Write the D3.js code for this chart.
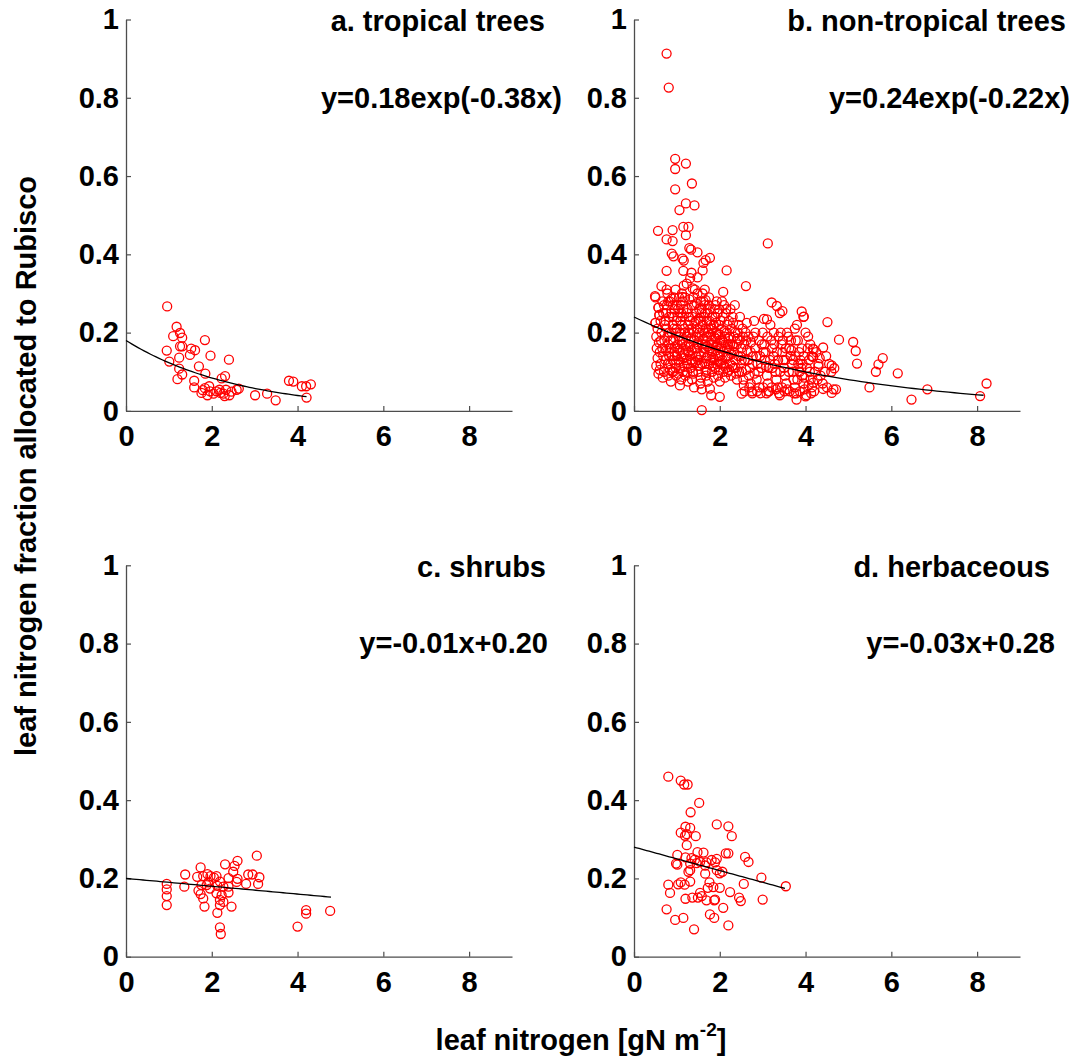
<!DOCTYPE html>
<html>
<head>
<meta charset="utf-8">
<script src="https://cdn.jsdelivr.net/npm/d3@7"></script>
<style>
  html, body { margin: 0; padding: 0; background: #fff; }
  svg text { font-family: "Liberation Sans", Arial, Helvetica, sans-serif; font-weight: bold; fill: #000; }
</style>
</head>
<body>
<svg id="chart" width="1075" height="1060"></svg>
<script>
// ---- data: leaf N [gN m-2] vs fraction of leaf N in Rubisco ----
const xTicks = [0, 2, 4, 6, 8];
const yTicks = [0, 0.2, 0.4, 0.6, 0.8, 1];

const panelTitles = ["a. tropical trees", "b. non-tropical trees", "c. shrubs", "d. herbaceous"];
const fitLabels = ["y=0.18exp(-0.38x)", "y=0.24exp(-0.22x)", "y=-0.01x+0.20", "y=-0.03x+0.28"];
// fitted curves: [kind, a, b, x start, x end]
const fitParams = [
  ["exp", 0.18, -0.38, 0, 4.21],
  ["exp", 0.24, -0.22, 0, 8.15],
  ["lin", -0.01, 0.20, 0, 4.78],
  ["lin", -0.03, 0.28, 0, 3.52]
];

const tropicalTrees = [
  [0.96,0.267],[1.18,0.215],[1.26,0.199],[1.10,0.191],[1.31,0.187],[1.84,0.181],[1.26,0.165],[1.31,0.165],
  [1.52,0.159],[1.61,0.155],[0.95,0.154],[1.49,0.143],[1.24,0.136],[1.97,0.141],[2.40,0.131],[1.01,0.126],
  [1.70,0.114],[1.24,0.108],[1.31,0.093],[1.85,0.095],[1.20,0.081],[1.59,0.077],[2.23,0.083],[2.31,0.089],
  [1.59,0.060],[1.79,0.053],[1.94,0.063],[1.90,0.040],[2.04,0.044],[2.18,0.054],[2.27,0.044],[2.33,0.054],
  [2.41,0.040],[2.46,0.049],[2.58,0.054],[2.63,0.057],[3.01,0.040],[3.29,0.044],[3.49,0.027],[3.80,0.077],
  [3.90,0.075],[4.10,0.063],[4.20,0.063],[4.31,0.068],[4.21,0.034],[1.96,0.050],[2.11,0.050],[1.76,0.046],
  [2.20,0.046],[2.30,0.038],[1.84,0.058]
];

const nonTropicalTrees = [
  // upper outliers
  [0.76,0.913],[0.81,0.826],[0.96,0.644],[0.96,0.618],[1.21,0.632],[1.35,0.581],[0.96,0.566],[1.21,0.530],
  [1.41,0.525],[1.06,0.513],[1.15,0.470],[1.27,0.470],[0.56,0.460],[0.90,0.462],[0.76,0.438],[0.90,0.434],
  [1.21,0.449],[1.29,0.416],[1.33,0.412],[1.48,0.405],[3.12,0.428],[0.88,0.402],[0.92,0.395],[1.13,0.389],
  [1.16,0.384],[1.67,0.385],[1.77,0.391],[1.62,0.378],[0.76,0.358],[1.15,0.358],[2.16,0.359],[1.34,0.353],
  [1.60,0.359],[1.48,0.341],[1.31,0.339],[1.23,0.325],[0.64,0.319],[0.76,0.310],[2.61,0.319],[1.37,0.313],
  [1.65,0.310],[2.08,0.304],[0.49,0.293],[0.88,0.287],[1.13,0.291],[1.67,0.283],[1.93,0.280],[0.57,0.264],
  [3.21,0.277],[3.33,0.268],[3.46,0.255],[3.91,0.254],[3.95,0.240],[0.59,0.245],[3.10,0.234],[3.75,0.210],
  [0.50,0.225],[4.17,0.159],[4.17,0.138],
  // lower edge
  [1.58,0.002],[2.00,0.036],[1.77,0.057],[1.80,0.040],[2.51,0.044],[2.76,0.045],[3.09,0.045],[3.40,0.040],
  [3.79,0.029],[4.02,0.040],
  // right tail
  [3.96,0.241],[4.51,0.227],[4.78,0.182],[5.11,0.176],[5.17,0.153],[5.20,0.121],[4.41,0.162],[4.19,0.157],
  [4.18,0.138],[4.30,0.114],[4.61,0.116],[4.67,0.109],[5.80,0.135],[5.70,0.119],[5.64,0.100],[6.15,0.096],
  [5.49,0.060],[6.47,0.029],[6.84,0.055],[8.07,0.038],[8.22,0.070],[4.41,0.056],[4.65,0.055],[4.71,0.055],
  [4.18,0.072],[4.00,0.037],[4.61,0.046],
  // main cloud
  [0.50,0.290],[0.57,0.264],[0.59,0.245],[0.50,0.225],[0.55,0.210],[0.52,0.190],[0.58,0.175],[0.53,0.160],
  [0.60,0.150],[0.55,0.135],[0.52,0.115],[0.60,0.105],[0.57,0.095],[0.62,0.120],[0.64,0.200],[0.63,0.180],
  [0.66,0.160],[0.68,0.140],[0.70,0.100],[0.67,0.085],[0.72,0.220],[0.75,0.250],[0.70,0.270],[0.78,0.300],
  [0.80,0.280],[0.82,0.240],[0.76,0.210],[0.78,0.190],[0.80,0.170],[0.75,0.155],[0.82,0.140],[0.79,0.120],
  [0.84,0.105],[0.80,0.090],[0.86,0.075],[0.88,0.200],[0.90,0.220],[0.92,0.180],[0.88,0.160],[0.94,0.150],
  [0.90,0.130],[0.96,0.120],[0.92,0.100],[0.98,0.090],[0.95,0.260],[0.93,0.290],[0.97,0.310],[1.00,0.270],
  [1.02,0.240],[1.00,0.210],[1.04,0.190],[1.02,0.170],[1.06,0.155],[1.00,0.140],[1.05,0.125],[1.08,0.110],
  [1.03,0.095],[1.10,0.080],[1.07,0.065],[1.12,0.220],[1.10,0.250],[1.14,0.280],[1.12,0.300],[1.16,0.320],
  [1.18,0.200],[1.15,0.180],[1.20,0.165],[1.17,0.145],[1.22,0.130],[1.18,0.115],[1.24,0.100],[1.20,0.090],
  [1.26,0.075],[1.25,0.260],[1.28,0.240],[1.26,0.220],[1.30,0.200],[1.32,0.185],[1.28,0.170],[1.34,0.155],
  [1.30,0.140],[1.36,0.125],[1.32,0.110],[1.38,0.095],[1.35,0.080],[1.40,0.060],[1.38,0.290],[1.40,0.270],
  [1.42,0.310],[1.45,0.250],[1.44,0.230],[1.48,0.210],[1.46,0.190],[1.50,0.175],[1.47,0.160],[1.52,0.145],
  [1.50,0.130],[1.54,0.115],[1.50,0.100],[1.56,0.085],[1.55,0.070],[1.58,0.055],[1.56,0.280],[1.60,0.300],
  [1.58,0.260],[1.62,0.240],[1.60,0.220],[1.64,0.200],[1.62,0.185],[1.66,0.170],[1.64,0.150],[1.68,0.135],
  [1.66,0.120],[1.70,0.105],[1.68,0.090],[1.72,0.075],[1.74,0.270],[1.72,0.250],[1.76,0.230],[1.74,0.210],
  [1.78,0.195],[1.80,0.180],[1.78,0.160],[1.82,0.145],[1.80,0.130],[1.84,0.115],[1.82,0.100],[1.86,0.085],
  [1.88,0.260],[1.90,0.240],[1.86,0.220],[1.92,0.200],[1.90,0.185],[1.94,0.170],[1.92,0.155],[1.96,0.140],
  [1.94,0.120],[1.98,0.105],[1.96,0.090],[2.00,0.075],[2.02,0.230],[2.04,0.210],[2.00,0.195],[2.06,0.180],
  [2.04,0.165],[2.08,0.150],[2.06,0.130],[2.10,0.115],[2.08,0.100],[2.12,0.085],[2.10,0.270],[2.14,0.250],
  [2.18,0.220],[2.16,0.200],[2.20,0.185],[2.18,0.170],[2.22,0.155],[2.20,0.140],[2.24,0.120],[2.22,0.105],
  [2.26,0.090],[2.28,0.210],[2.30,0.240],[2.32,0.190],[2.30,0.170],[2.34,0.150],[2.36,0.130],[2.32,0.110],
  [2.38,0.095],[2.40,0.080],[2.42,0.200],[2.44,0.220],[2.46,0.180],[2.50,0.160],[2.48,0.140],[2.52,0.100],
  [2.55,0.080],[2.56,0.065],[2.58,0.050],[2.60,0.200],[2.62,0.180],[2.64,0.155],[2.66,0.130],[2.70,0.110],
  [2.68,0.090],[2.72,0.070],[2.75,0.050],[2.78,0.190],[2.80,0.230],[2.82,0.160],[2.85,0.140],[2.88,0.120],
  [2.90,0.100],[2.86,0.080],[2.92,0.060],[2.95,0.045],[2.98,0.170],[3.00,0.200],[3.02,0.150],[3.05,0.130],
  [3.08,0.115],[3.10,0.090],[3.12,0.070],[3.15,0.050],[3.18,0.220],[3.20,0.180],[3.22,0.160],[3.25,0.140],
  [3.28,0.120],[3.30,0.100],[3.32,0.080],[3.35,0.060],[3.38,0.045],[3.40,0.250],[3.42,0.200],[3.44,0.170],
  [3.46,0.150],[3.48,0.130],[3.50,0.110],[3.52,0.090],[3.55,0.070],[3.58,0.055],[3.60,0.190],[3.62,0.160],
  [3.65,0.140],[3.68,0.120],[3.70,0.100],[3.72,0.080],[3.75,0.060],[3.78,0.045],[3.80,0.220],[3.82,0.180],
  [3.85,0.150],[3.88,0.130],[3.90,0.110],[3.92,0.090],[3.95,0.070],[3.98,0.055],[4.00,0.200],[4.05,0.160],
  [4.08,0.130],[4.10,0.100],[4.12,0.080],[4.15,0.060],[4.20,0.050],[4.25,0.150],[4.30,0.120],[4.35,0.090],
  [4.40,0.070],[4.50,0.060],[4.55,0.120],[4.60,0.100],
  [0.74,0.230],[0.86,0.180],[0.98,0.200],[1.08,0.230],[1.12,0.170],[1.22,0.190],[1.27,0.150],[1.34,0.210],
  [1.40,0.180],[1.44,0.140],[1.52,0.200],[1.55,0.230],[1.58,0.170],[1.66,0.250],[1.70,0.190],[1.72,0.140],
  [1.82,0.210],[1.85,0.170],[1.90,0.270],[1.98,0.220],[2.02,0.160],[2.12,0.190],[2.16,0.140],[0.90,0.240],
  [1.05,0.290],[1.15,0.260],[1.35,0.270],[1.48,0.300],[1.52,0.260],[1.62,0.280],[1.75,0.290],[1.95,0.250],
  [2.05,0.280],[2.25,0.260],[0.68,0.250],[0.84,0.280],[0.96,0.165],[1.06,0.200],[1.16,0.135],[1.30,0.230],
  [1.42,0.160],[1.56,0.140],[1.68,0.210],[1.76,0.155],[1.88,0.130],[2.00,0.140],[2.14,0.110],[2.24,0.170],
  [2.36,0.200],[2.40,0.170],[2.54,0.190],[2.58,0.130],[2.72,0.150],[2.76,0.120],[2.94,0.140],[3.04,0.170],
  [3.14,0.110],[3.26,0.200],[3.36,0.130],[3.54,0.160],[3.66,0.180],[3.76,0.140],[3.86,0.100],[3.96,0.140],
  [4.06,0.190],[4.14,0.140],
  [0.62,0.230],[0.66,0.280],[0.71,0.180],[0.73,0.130],[0.77,0.270],[0.81,0.200],[0.83,0.160],[0.85,0.120],
  [0.87,0.250],[0.89,0.100],[0.91,0.270],[0.93,0.210],[0.95,0.140],[0.97,0.110],[0.99,0.230],[1.01,0.160],
  [1.03,0.260],[1.04,0.130],[1.07,0.180],[1.09,0.270],[1.11,0.140],[1.13,0.240],[1.14,0.100],[1.17,0.210],
  [1.19,0.290],[1.21,0.155],[1.23,0.250],[1.24,0.120],[1.27,0.200],[1.29,0.285],[1.31,0.165],[1.33,0.130],
  [1.36,0.240],[1.37,0.100],[1.39,0.200],[1.41,0.225],[1.43,0.125],[1.46,0.275],[1.48,0.170],[1.49,0.115],
  [1.51,0.235],[1.53,0.190],[1.57,0.250],[1.59,0.120],[1.61,0.205],[1.63,0.160],[1.65,0.270],[1.67,0.100],
  [1.69,0.230],[1.71,0.165],[1.73,0.200],[1.75,0.120],[1.77,0.260],[1.79,0.220],[1.81,0.170],[1.83,0.240],
  [1.85,0.135],[1.87,0.190],[1.89,0.110],[1.91,0.225],[1.93,0.165],[1.95,0.195],[1.97,0.125],[1.99,0.260],
  [2.01,0.180],[2.03,0.120],[2.07,0.240],[2.09,0.175],[2.11,0.205],[2.13,0.135],[2.15,0.260],[2.17,0.160],
  [2.19,0.100],[2.21,0.230],[2.23,0.190],[2.27,0.145],[2.29,0.115],[2.31,0.225],[2.33,0.165],[2.35,0.270],
  [2.37,0.110],[2.41,0.185],[2.43,0.140],[2.45,0.100],[2.47,0.240],[2.51,0.130],[2.53,0.210],[2.57,0.170],
  [2.61,0.105],[2.63,0.225],[2.67,0.190],[2.69,0.060],[2.73,0.175],[2.77,0.140],[2.81,0.095],[2.83,0.200],
  [2.87,0.050],[2.91,0.180],[2.97,0.110],[3.01,0.060],[3.03,0.235],[3.07,0.150],[3.11,0.190],[3.13,0.050],
  [3.17,0.130],[3.21,0.060],[3.23,0.110],[3.27,0.170],[3.31,0.055],[3.33,0.150],[3.37,0.190],[3.41,0.100],
  [3.45,0.060],[3.47,0.180],[3.51,0.050],[3.53,0.130],[3.57,0.200],[3.61,0.100],[3.63,0.050],[3.67,0.155],
  [3.71,0.130],[3.73,0.045],[3.77,0.180],[3.81,0.080],[3.83,0.120],[3.87,0.050],[3.91,0.160],[3.93,0.120],
  [3.97,0.085],[4.03,0.110],[4.07,0.065],[4.11,0.170],[4.13,0.045],[4.22,0.100],[4.28,0.080],[4.33,0.135],
  [4.45,0.100],[4.48,0.140]
];

const shrubs = [
  [3.05,0.258],[2.60,0.245],[2.31,0.236],[2.53,0.232],[1.74,0.228],[2.50,0.217],[1.38,0.210],[1.90,0.211],
  [2.85,0.210],[2.95,0.210],[1.66,0.204],[1.80,0.206],[1.97,0.206],[2.05,0.202],[2.11,0.206],[2.39,0.201],
  [2.60,0.199],[3.11,0.203],[2.19,0.192],[1.92,0.190],[2.58,0.191],[2.80,0.186],[3.08,0.186],[0.95,0.186],
  [1.36,0.179],[1.76,0.183],[1.88,0.183],[2.13,0.181],[2.27,0.179],[2.39,0.179],[0.95,0.172],[1.69,0.169],
  [1.96,0.174],[2.11,0.162],[2.39,0.164],[1.74,0.160],[1.80,0.149],[2.23,0.157],[0.95,0.155],[2.19,0.145],
  [2.27,0.140],[0.95,0.132],[2.19,0.132],[1.83,0.128],[2.46,0.128],[2.13,0.112],[4.20,0.119],[4.20,0.110],
  [4.00,0.077],[2.19,0.075],[2.21,0.058],[4.76,0.117]
];

const herbaceous = [
  [0.80,0.460],[1.09,0.450],[1.17,0.440],[1.25,0.440],[1.52,0.393],[1.32,0.369],[1.93,0.338],[2.20,0.333],
  [1.20,0.332],[1.31,0.329],[1.09,0.317],[1.23,0.313],[1.19,0.309],[1.44,0.308],[2.28,0.308],[1.23,0.285],
  [1.48,0.267],[1.01,0.260],[1.62,0.266],[2.14,0.264],[2.20,0.264],[2.59,0.255],[2.67,0.242],[1.20,0.254],
  [1.34,0.252],[1.42,0.248],[1.54,0.242],[1.69,0.241],[1.81,0.247],[1.93,0.250],[1.89,0.241],[0.98,0.238],
  [1.01,0.235],[1.31,0.238],[1.46,0.239],[1.66,0.233],[1.31,0.221],[1.27,0.217],[1.93,0.221],[2.06,0.217],
  [2.00,0.213],[1.66,0.212],[0.80,0.184],[1.09,0.190],[1.18,0.184],[1.31,0.192],[1.03,0.185],[1.76,0.190],
  [1.72,0.176],[1.85,0.178],[2.00,0.176],[2.97,0.202],[2.56,0.186],[3.54,0.180],[0.84,0.163],[2.24,0.165],
  [1.54,0.163],[1.58,0.155],[1.20,0.148],[1.36,0.151],[1.49,0.151],[1.69,0.144],[1.89,0.146],[1.87,0.144],
  [2.45,0.151],[2.49,0.142],[3.00,0.146],[0.76,0.121],[2.08,0.125],[0.96,0.094],[1.15,0.099],[1.77,0.108],
  [1.87,0.099],[2.20,0.080],[1.40,0.070]
];

const panelData = [tropicalTrees, nonTropicalTrees, shrubs, herbaceous];

// ---- layout ----
const colLeft = [126, 634];
const rowTop = [19.5, 565.3];
const plotW = 386, plotH = 391.4;
const fontSize = 29;
// right edge of title / equation text, in px from the panel's left axis
const titleRight = [419, 432, 420, 416];
const eqRight = [436, 436, 422, 421];

const svg = d3.select("#chart");

panelData.forEach((pts, i) => {
  const left = colLeft[i % 2], top = rowTop[Math.floor(i / 2)];
  const x = d3.scaleLinear().domain([0, 9]).range([left, left + plotW]);
  const y = d3.scaleLinear().domain([0, 1]).range([top + plotH, top]);
  const g = svg.append("g");

  // axes, ticks pointing inward
  const yAxis = d3.axisLeft(y).tickValues(yTicks).tickSizeInner(-5).tickSizeOuter(0).tickPadding(7)
    .tickFormat(d => String(d));
  const xAxis = d3.axisBottom(x).tickValues(xTicks).tickSizeInner(-5).tickSizeOuter(0).tickPadding(15)
    .tickFormat(d => String(d));

  const ya = g.append("g").attr("transform", `translate(${left},0)`).call(yAxis);
  const xa = g.append("g").attr("transform", `translate(0,${top + plotH})`).call(xAxis);
  [ya, xa].forEach(a => {
    a.select(".domain").attr("stroke", "#4d4d4d").attr("stroke-width", 1.3);
    a.selectAll(".tick line").attr("stroke", "#4d4d4d").attr("stroke-width", 1.2);
    a.selectAll(".tick text").attr("font-size", fontSize).attr("font-family", null).attr("fill", "#000");
  });

  // observations
  g.append("g").selectAll("circle").data(pts).join("circle")
    .attr("cx", d => x(d[0])).attr("cy", d => y(d[1])).attr("r", 4.5)
    .attr("fill", "none").attr("stroke", "#ff0000").attr("stroke-width", 1.3);

  // fitted curve
  const [kind, a, b, x0, x1] = fitParams[i];
  const f = kind === "exp" ? (v => a * Math.exp(b * v)) : (v => a * v + b);
  const xs = d3.range(0, 61).map(k => x0 + (x1 - x0) * k / 60);
  g.append("path").datum(xs)
    .attr("d", d3.line().x(v => x(v)).y(v => y(f(v))))
    .attr("fill", "none").attr("stroke", "#000").attr("stroke-width", 1.3);

  // panel title and fitted equation
  g.append("text").attr("x", left + titleRight[i]).attr("y", top + 11.5)
    .attr("text-anchor", "end").attr("font-size", fontSize).text(panelTitles[i]);
  g.append("text").attr("x", left + eqRight[i]).attr("y", top + 88)
    .attr("text-anchor", "end").attr("font-size", fontSize).text(fitLabels[i]);
});

// shared axis titles
svg.append("text")
  .attr("transform", "translate(36,466) rotate(-90)")
  .attr("text-anchor", "middle").attr("font-size", fontSize)
  .text("leaf nitrogen fraction allocated to Rubisco");

const xl = svg.append("text").attr("x", 581).attr("y", 1050)
  .attr("text-anchor", "middle").attr("font-size", fontSize);
xl.append("tspan").text("leaf nitrogen [gN m");
xl.append("tspan").attr("font-size", 19).attr("dy", -14).text("-2");
xl.append("tspan").attr("dy", 14).text("]");
</script>
</body>
</html>
